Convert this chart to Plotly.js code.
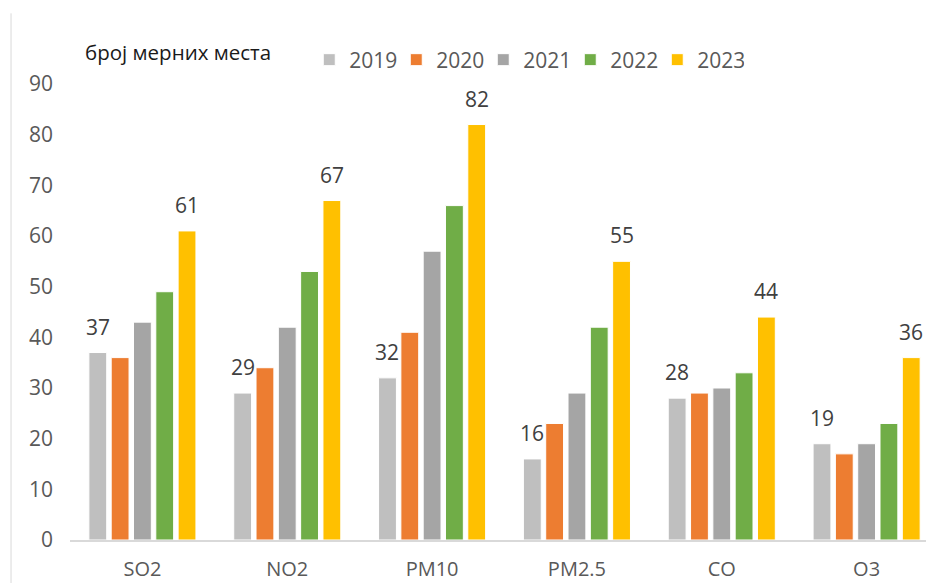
<!DOCTYPE html>
<html>
<head>
<meta charset="utf-8">
<script src="https://cdn.plot.ly/plotly-3.0.1.min.js"></script>
<style>html,body{margin:0;padding:0;background:#fff;}#chart{width:926px;height:583px;}</style>
</head>
<body>
<div id="chart"></div>
<script>
const categories = ["SO2", "NO2", "PM10", "PM2.5", "CO", "O3"];
const years = ["2019", "2020", "2021", "2022", "2023"];
const v2019 = [37, 29, 32, 16, 28, 19];
const v2020 = [36, 34, 41, 23, 29, 17];
const v2021 = [43, 42, 57, 29, 30, 19];
const v2022 = [49, 53, 66, 42, 33, 23];
const v2023 = [61, 67, 82, 55, 44, 36];
const yTicks = [0, 10, 20, 30, 40, 50, 60, 70, 80, 90];
const yAxisTitle = "број мерних места";
const labelledYears = ["2019", "2023"];

const series = [v2019, v2020, v2021, v2022, v2023];
const colors = ["#BFBFBF", "#ED7D31", "#A5A5A5", "#70AD47", "#FFC000"];
const FONT = "Open Sans, Liberation Sans, sans-serif";
const bargap = 0.23;

const traces = series.map((vals, i) => ({
  type: "bar",
  name: years[i],
  x: categories,
  y: vals,
  marker: { color: colors[i], line: { color: "#ffffff", width: 1 } },
  hoverinfo: "x+y+name"
}));

// data labels above 2019 and 2023 bars
const annotations = [];
const nS = series.length;
const slot = (1 - bargap) / nS;
years.forEach((yr, si) => {
  if (labelledYears.indexOf(yr) < 0) return;
  const off = -(1 - bargap) / 2 + slot * (si + 0.5);
  series[si].forEach((v, ci) => {
    annotations.push({
      xref: "x", yref: "y", x: ci + off, y: v,
      text: String(v), showarrow: false,
      xanchor: "center", yanchor: "bottom", yshift: 10,
      font: { family: FONT, size: 21, color: "#404040" }
    });
  });
});
annotations.push({
  xref: "paper", yref: "paper", x: 0.0152, y: 1.07,
  xanchor: "left", yanchor: "middle", showarrow: false,
  text: yAxisTitle,
  font: { family: FONT, size: 20.5, color: "#1a1a1a" }
});

const layout = {
  width: 926, height: 583,
  margin: { l: 70, r: 0, t: 84, b: 43 },
  paper_bgcolor: "#ffffff", plot_bgcolor: "#ffffff",
  barmode: "group", bargap: bargap, bargroupgap: 0.2,
  showlegend: true,
  legend: {
    orientation: "h", x: 0.2795, y: 1.0526, xanchor: "left", yanchor: "middle",
    font: { family: FONT, size: 21, color: "#595959" },
    traceorder: "normal", bgcolor: "rgba(0,0,0,0)",
    entrywidth: 42, entrywidthmode: "pixels"
  },
  xaxis: {
    type: "category", range: [-0.5, 5.41],
    showgrid: false, zeroline: false, showline: true,
    linecolor: "#D9D9D9", linewidth: 2, ticks: "",
    tickfont: { family: FONT, size: 20, color: "#595959" },
    ticklabelstandoff: 10, fixedrange: true
  },
  yaxis: {
    range: [0, 90], tickvals: yTicks, showgrid: false, zeroline: false,
    showline: false, ticks: "",
    tickfont: { family: FONT, size: 21, color: "#595959" },
    ticklabelstandoff: 16, fixedrange: true
  },
  shapes: [{
    type: "line", xref: "paper", yref: "paper",
    x0: -0.0689, x1: -0.0689, y0: -0.1, y1: 1.155,
    line: { color: "#D9D9D9", width: 1 }
  }],
  annotations: annotations
};

Plotly.newPlot("chart", traces, layout, { displayModeBar: false, staticPlot: true });
</script>
</body>
</html>
